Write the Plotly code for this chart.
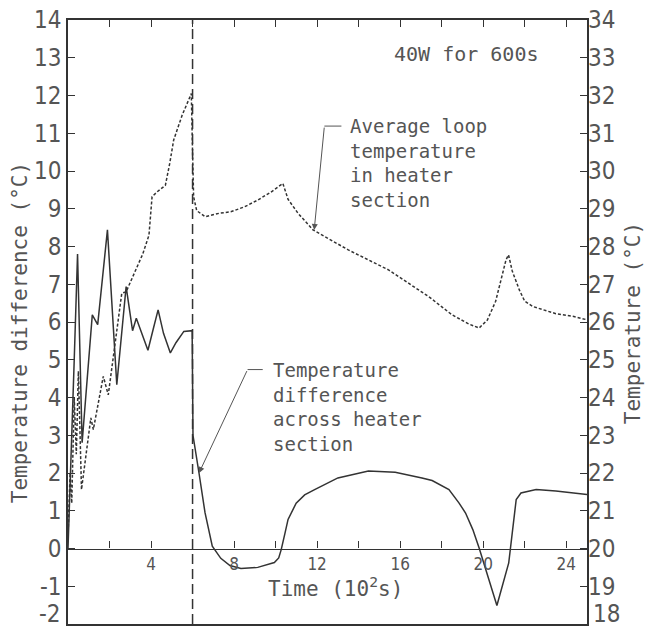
import plotly.graph_objects as go

# Temperature difference across heater section (left axis, °C) vs time (10^2 s)
diff_time = [0.0, 0.1, 0.3, 0.46, 0.68, 1.17, 1.43, 1.9, 2.35, 2.8, 3.11, 3.29, 3.85, 4.1, 4.34,
             4.6, 4.93, 5.2, 5.58, 5.98, 6.02, 6.31, 6.6, 6.95, 7.36, 7.8, 8.33, 9.14, 9.94,
             10.15, 10.27, 10.45, 10.6, 10.99, 11.4, 11.88, 13.0, 14.47, 15.76, 17.05, 17.54,
             18.35, 18.83, 19.15, 19.5, 19.8, 20.66, 21.23, 21.59, 21.82, 22.55, 23.5, 24.0, 25.0]
diff_vals = [0.0, 1.5, 5.0, 7.8, 2.8, 6.19, 5.93, 8.44, 4.34, 6.94, 5.77, 6.1, 5.25, 5.8, 6.32,
             5.7, 5.18, 5.45, 5.75, 5.77, 3.0, 2.0, 0.95, 0.06, -0.26, -0.45, -0.53, -0.5, -0.37,
             -0.25, -0.03, 0.4, 0.77, 1.2, 1.42, 1.56, 1.87, 2.05, 2.02, 1.87, 1.8,
             1.56, 1.21, 0.94, 0.5, 0.02, -1.51, -0.38, 1.3, 1.47, 1.56, 1.52, 1.49, 1.43]

# Average loop temperature in heater section (right axis, °C)
avg_time = [0.0, 0.1, 0.18, 0.3, 0.4, 0.5, 0.65, 1.1, 1.22, 1.7, 1.94, 2.59, 2.8, 3.2, 3.6, 3.9,
            4.05, 4.3, 4.69, 4.9, 5.09, 5.5, 5.94, 6.0, 6.05, 6.2, 6.6, 7.28, 7.84, 8.5, 9.14,
            9.8, 10.35, 10.6, 11.08, 11.8, 13.5, 15.44, 17.38, 18.5, 19.3, 19.8, 20.2, 20.6,
            20.9, 21.1, 21.22, 21.4, 21.74, 22.0, 22.39, 22.87, 23.5, 24.32, 25.0]
avg_vals = [20.3, 22.0, 21.2, 24.0, 22.5, 24.7, 21.56, 23.46, 23.15, 24.56, 24.07, 26.76, 26.8,
            27.3, 27.8, 28.3, 29.32, 29.45, 29.62, 30.2, 30.82, 31.48, 32.05, 30.5, 29.32, 28.95,
            28.79, 28.88, 28.92, 29.05, 29.23, 29.45, 29.67, 29.25, 28.88, 28.44, 27.91, 27.38,
            26.67, 26.19, 25.95, 25.84, 26.05, 26.55, 27.2, 27.65, 27.78, 27.35, 26.85, 26.55,
            26.41, 26.32, 26.22, 26.15, 26.06]

left_ticks = list(range(-2, 15))
right_ticks = list(range(18, 35))
x_ticks = list(range(2, 25, 2))
x_ticktext = [str(v) if v % 4 == 0 else "" for v in x_ticks]
heater_off = 6.0

INK = "#333333"
TXT = "#555555"
NUM_FONT = "Liberation Sans Narrow, DejaVu Sans Condensed, Liberation Sans, sans-serif"
MONO = "DejaVu Sans Mono, Liberation Mono, monospace"

fig = go.Figure()
fig.add_trace(go.Scatter(x=diff_time, y=diff_vals, mode="lines",
                         line=dict(color=INK, width=1.5), xaxis="x", yaxis="y",
                         showlegend=False, hoverinfo="skip"))
fig.add_trace(go.Scatter(x=avg_time, y=avg_vals, mode="lines",
                         line=dict(color=INK, width=1.5, dash="3px,2px"), xaxis="x", yaxis="y2",
                         showlegend=False, hoverinfo="skip"))

fig.update_layout(
    width=654, height=627,
    margin=dict(l=68, r=67, t=20, b=3),
    paper_bgcolor="white", plot_bgcolor="white",
    xaxis=dict(range=[0, 25], domain=[0, 1], showline=True, mirror=True, linecolor=INK,
               linewidth=1.5, ticks="", showticklabels=False, showgrid=False, zeroline=False),
    xaxis2=dict(range=[0, 25], overlaying="x", side="top", anchor="y", showline=False,
                ticks="inside", tickvals=x_ticks, ticklen=7, tickcolor=INK, tickwidth=1.2,
                showticklabels=False, showgrid=False, zeroline=False),
    xaxis3=dict(range=[0, 25], overlaying="x", anchor="free", position=2 / 16, side="bottom",
                showline=True, linecolor=INK, linewidth=1.4, ticks="inside", tickvals=x_ticks,
                ticktext=x_ticktext, ticklen=7, tickcolor=INK, tickwidth=1.2,
                tickfont=dict(family=NUM_FONT, size=17, color=TXT), showgrid=False, zeroline=False),
    yaxis=dict(range=[-2, 14], showline=True, mirror=True, linecolor=INK, linewidth=1.5,
               ticks="inside", tickvals=left_ticks,
               ticktext=["" if v == -2 else str(v) for v in left_ticks],
               ticklen=7, tickcolor=INK, tickwidth=1.2,
               tickfont=dict(family=NUM_FONT, size=24, color=TXT), showgrid=False, zeroline=False),
    yaxis2=dict(range=[18, 34], overlaying="y", side="right", anchor="x", showline=False,
                ticks="inside", tickvals=right_ticks,
                ticktext=["" if v == 18 else str(v) for v in right_ticks],
                ticklen=7, tickcolor=INK, tickwidth=1.2,
                tickfont=dict(family=NUM_FONT, size=24, color=TXT), showgrid=False, zeroline=False),
)

# dummy traces so the extra x axes are rendered
fig.add_trace(go.Scatter(x=[None], y=[None], xaxis="x3", yaxis="y", showlegend=False,
                         hoverinfo="skip"))
fig.add_trace(go.Scatter(x=[None], y=[None], xaxis="x2", yaxis="y", showlegend=False,
                         hoverinfo="skip"))

# heater switch-off line
fig.add_shape(type="line", xref="x", yref="paper", x0=heater_off, x1=heater_off, y0=0, y1=1,
              line=dict(color=INK, width=1.5, dash="10px,5px"))

# annotations
def ann(text, x, y, size, xanchor="center", yanchor="middle", angle=0, align="left", font=MONO):
    fig.add_annotation(text=text, x=x, y=y, xref="paper", yref="paper", showarrow=False,
                       xanchor=xanchor, yanchor=yanchor, textangle=angle, align=align,
                       font=dict(family=font, size=size, color=TXT))

ann("Temperature difference (°C)", -0.0925, 0.483, 21, angle=-90)
ann("Temperature (°C)", 1.0886, 0.498, 21, angle=-90)
ann("Time (10<sup>2</sup>s)", 0.5145, 0.061, 21)
ann("40W for 600s", 0.767, 0.9437, 20)
ann("Average loop<br>temperature<br>in heater<br>section", 0.5395, 0.763, 19, xanchor="left")
ann("Temperature<br>difference<br>across heater<br>section", 0.3906, 0.359, 19, xanchor="left")
ann("-2", -0.0095, (624 - 614) / 604, 24, xanchor="right", font=NUM_FONT)
ann("18", 1.0071, (624 - 614) / 604, 24, xanchor="left", font=NUM_FONT)

# leader lines
fig.add_shape(type="line", xref="x", yref="y", x0=12.35, x1=13.17, y0=11.19, y1=11.19,
              line=dict(color=TXT, width=1))
fig.add_annotation(x=11.86, y=8.44, ax=12.35, ay=11.19, xref="x", yref="y", axref="x", ayref="y",
                   text="", showarrow=True, arrowhead=2, arrowsize=1.2, arrowwidth=1,
                   arrowcolor=TXT)
fig.add_shape(type="line", xref="x", yref="y", x0=8.65, x1=9.38, y0=4.74, y1=4.74,
              line=dict(color=TXT, width=1))
fig.add_annotation(x=6.31, y=2.0, ax=8.65, ay=4.74, xref="x", yref="y", axref="x", ayref="y",
                   text="", showarrow=True, arrowhead=2, arrowsize=1.2, arrowwidth=1,
                   arrowcolor=TXT)

fig.write_html("out.html")
